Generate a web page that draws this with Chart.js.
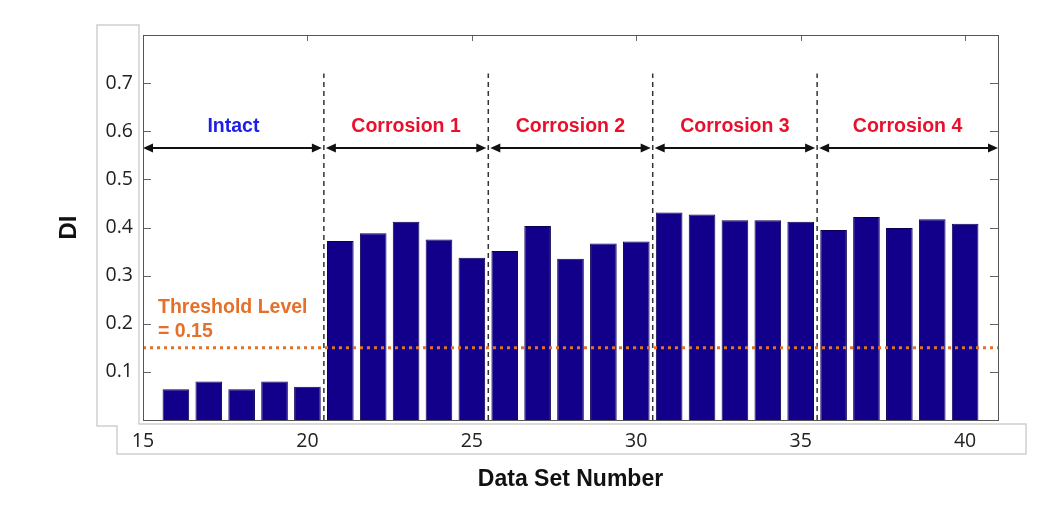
<!DOCTYPE html>
<html>
<head>
<meta charset="utf-8">
<script src="https://cdn.jsdelivr.net/npm/chart.js@4/dist/chart.umd.min.js"></script>
<style>
  html, body { margin: 0; padding: 0; background: #fff; }
  #wrap { width: 1046px; height: 509px; }
</style>
</head>
<body>
<div id="wrap"><canvas id="diChart"></canvas></div>
<script>
// data
const dataSetNumbers = [16, 17, 18, 19, 20, 21, 22, 23, 24, 25, 26, 27, 28, 29, 30, 31, 32, 33, 34, 35, 36, 37, 38, 39, 40];
const diValues = [0.064, 0.080, 0.064, 0.080, 0.069,
                  0.372, 0.388, 0.412, 0.375, 0.337,
                  0.351, 0.403, 0.335, 0.367, 0.371,
                  0.431, 0.427, 0.415, 0.415, 0.412,
                  0.395, 0.422, 0.399, 0.417, 0.408];
const xTickValues = [15, 20, 25, 30, 35, 40];
const yTickValues = [0.1, 0.2, 0.3, 0.4, 0.5, 0.6, 0.7];
const thresholdLevel = 0.15;
const sectionNames = ['Intact', 'Corrosion 1', 'Corrosion 2', 'Corrosion 3', 'Corrosion 4'];
const sectionBounds = [15, 20.5, 25.5, 30.5, 35.5, 41];

const ORANGE = '#e4702a';

// dashed separators between the sections
const dividerSets = sectionBounds.slice(1, -1).map(b => ({
  type: 'line',
  data: [{ x: b, y: 0 }, { x: b, y: 0.72 }],
  borderColor: '#333',
  borderWidth: 1.5,
  borderDash: [5, 4],
  pointRadius: 0,
  order: 0
}));

// arrows, section names, threshold text, inner ticks, frame
const decorations = {
  id: 'decorations',
  beforeDraw(chart) {
    const ctx = chart.ctx;
    ctx.save();
    ctx.strokeStyle = '#cfcfcf';
    ctx.lineWidth = 1.5;
    ctx.beginPath();
    ctx.moveTo(97, 25); ctx.lineTo(139, 25); ctx.lineTo(139, 424);
    ctx.lineTo(1026, 424); ctx.lineTo(1026, 454); ctx.lineTo(117, 454);
    ctx.lineTo(117, 426); ctx.lineTo(97, 426); ctx.closePath();
    ctx.stroke();
    ctx.restore();
  },
  afterDatasetsDraw(chart) {
    const { ctx, chartArea: a, scales: { x, y } } = chart;
    ctx.save();

    // double arrows
    const ay = y.getPixelForValue(0.565);
    ctx.strokeStyle = '#111';
    ctx.fillStyle = '#111';
    ctx.lineWidth = 2;
    for (let i = 0; i < sectionNames.length; i++) {
      const x1 = x.getPixelForValue(sectionBounds[i]) + (i === 0 ? 0 : 2);
      const x2 = x.getPixelForValue(sectionBounds[i + 1]) - (i === sectionNames.length - 1 ? 0 : 2);
      ctx.beginPath();
      ctx.moveTo(x1 + 6, ay); ctx.lineTo(x2 - 6, ay);
      ctx.stroke();
      ctx.beginPath();
      ctx.moveTo(x1, ay); ctx.lineTo(x1 + 10, ay - 4.5); ctx.lineTo(x1 + 10, ay + 4.5); ctx.closePath();
      ctx.fill();
      ctx.beginPath();
      ctx.moveTo(x2, ay); ctx.lineTo(x2 - 10, ay - 4.5); ctx.lineTo(x2 - 10, ay + 4.5); ctx.closePath();
      ctx.fill();

      ctx.font = 'bold 19.5px "Liberation Sans", Arial, sans-serif';
      ctx.textAlign = 'center';
      ctx.textBaseline = 'middle';
      ctx.fillStyle = i === 0 ? '#1e1ee6' : '#e8102c';
      const mid = (sectionBounds[i] + sectionBounds[i + 1]) / 2;
      ctx.fillText(sectionNames[i], x.getPixelForValue(mid), y.getPixelForValue(0.61));
      ctx.fillStyle = '#111';
    }

    // threshold label
    ctx.font = 'bold 19.5px "Liberation Sans", Arial, sans-serif';
    ctx.textAlign = 'left';
    ctx.textBaseline = 'middle';
    ctx.fillStyle = ORANGE;
    ctx.fillText('Threshold Level', a.left + 15, y.getPixelForValue(0.233));
    ctx.fillText('= 0.15', a.left + 15, y.getPixelForValue(0.183));
    ctx.restore();
  },
  afterDraw(chart) {
    const { ctx, chartArea: a, scales: { x, y } } = chart;
    ctx.save();
    ctx.strokeStyle = '#666';
    ctx.lineWidth = 1;
    ctx.beginPath();
    yTickValues.forEach(v => {
      const py = Math.round(y.getPixelForValue(v)) + 0.5;
      ctx.moveTo(a.left, py); ctx.lineTo(a.left + 8, py);
      ctx.moveTo(a.right, py); ctx.lineTo(a.right - 8, py);
    });
    xTickValues.forEach(v => {
      const px = Math.round(x.getPixelForValue(v)) + 0.5;
      ctx.moveTo(px, a.top); ctx.lineTo(px, a.top + 6);
    });
    ctx.stroke();
    ctx.strokeStyle = '#555';
    ctx.strokeRect(Math.round(a.left) + 0.5, Math.round(a.top) + 0.5,
                   Math.round(a.right - a.left), Math.round(a.bottom - a.top));
    ctx.restore();
  }
};

new Chart(document.getElementById('diChart'), {
  type: 'bar',
  data: {
    datasets: [
      {
        type: 'line',
        data: [{ x: 15, y: thresholdLevel }, { x: 41, y: thresholdLevel }],
        borderColor: ORANGE,
        borderWidth: 3,
        borderDash: [3, 4],
        pointRadius: 0,
        order: 0
      },
      ...dividerSets,
      {
        label: 'DI',
        data: dataSetNumbers.map((n, i) => ({ x: n, y: diValues[i] })),
        backgroundColor: '#13008a',
        borderColor: '#0b0058',
        borderWidth: 1,
        barPercentage: 1,
        categoryPercentage: 0.81,
        order: 1
      }
    ]
  },
  options: {
    responsive: true,
    maintainAspectRatio: false,
    animation: false,
    layout: { padding: { top: 35, right: 48, left: 0, bottom: 0 } },
    plugins: { legend: { display: false }, tooltip: { enabled: false } },
    scales: {
      x: {
        type: 'linear',
        min: 15,
        max: 41,
        offset: false,
        grid: { display: false },
        border: { display: false },
        afterBuildTicks: s => { s.ticks = xTickValues.map(v => ({ value: v })); },
        afterFit: s => { s.height = 89; },
        ticks: {
          padding: 2,
          color: '#222',
          font: { family: '"Open Sans", sans-serif', size: 19.5 },
          maxRotation: 0
        },
        title: {
          display: true,
          text: 'Data Set Number',
          color: '#111',
          font: { family: '"Liberation Sans", Arial, sans-serif', size: 23, weight: 'bold' },
          padding: { top: 0, bottom: 16 }
        }
      },
      y: {
        min: 0,
        max: 0.8,
        grid: { display: false },
        border: { display: false },
        afterBuildTicks: s => { s.ticks = yTickValues.map(v => ({ value: v })); },
        afterFit: s => { s.width = 143; },
        ticks: {
          padding: 2,
          color: '#222',
          font: { family: '"Open Sans", sans-serif', size: 19.5 },
          callback: v => v.toFixed(1)
        },
        title: {
          display: true,
          text: 'DI',
          color: '#111',
          font: { family: '"Liberation Sans", Arial, sans-serif', size: 24, weight: 'bold' },
          padding: { top: 55, bottom: 0 }
        }
      }
    }
  },
  plugins: [decorations]
});
</script>
</body>
</html>
